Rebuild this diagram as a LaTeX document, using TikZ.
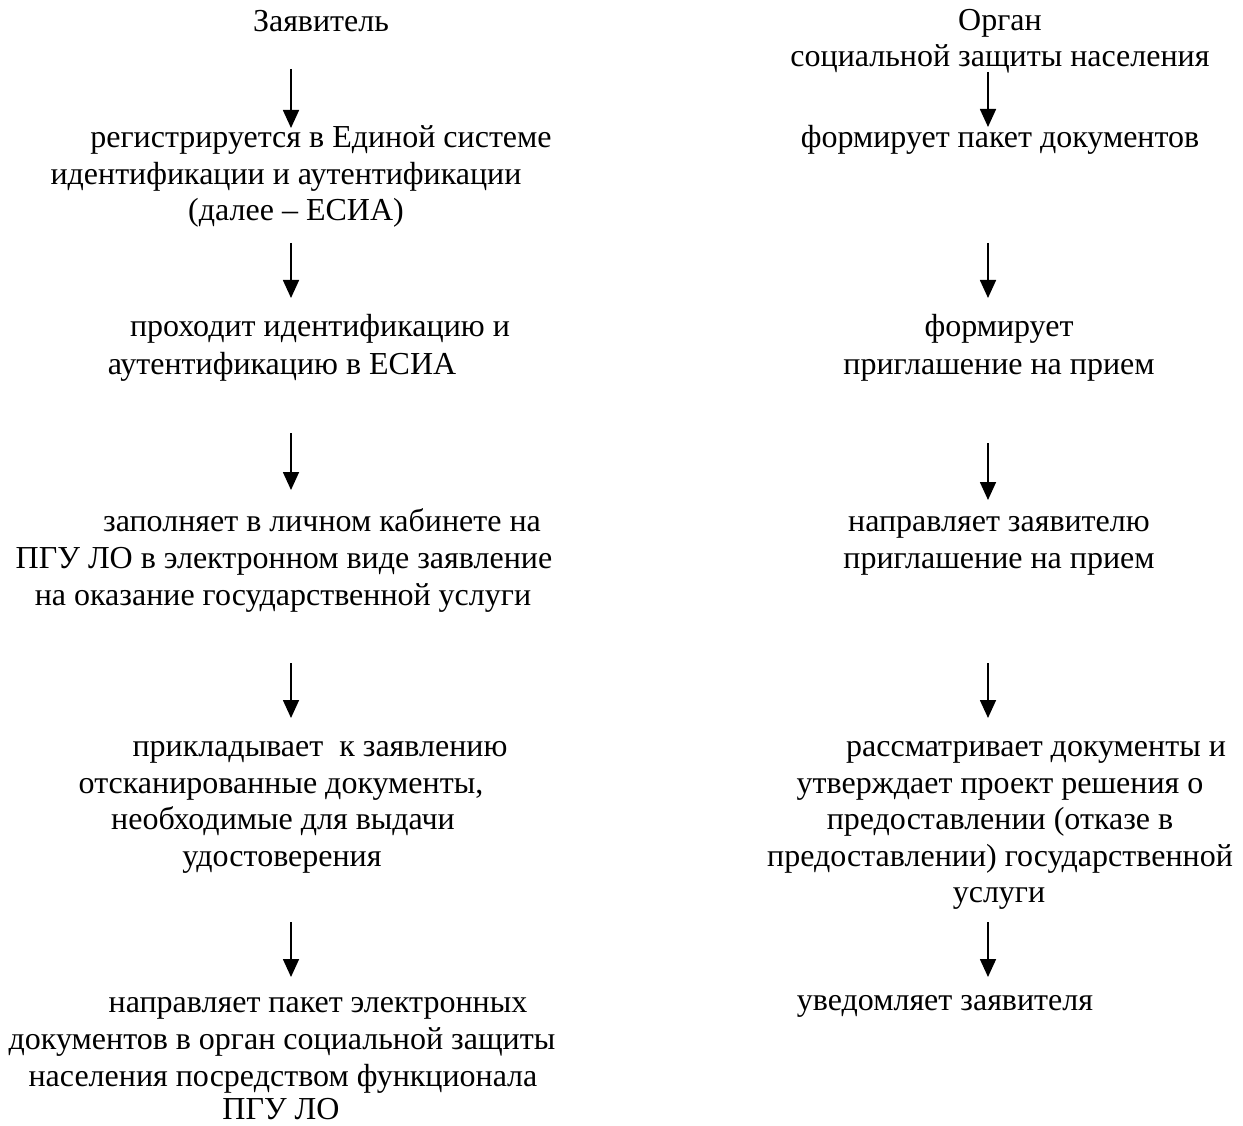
\documentclass[tikz,border=0pt]{standalone}
\usepackage{fontspec}
\setmainfont{Liberation Serif}
\usetikzlibrary{arrows.meta}
\begin{document}
\begin{tikzpicture}[x=1pt,y=-1pt,
  txt/.style={anchor=base,inner sep=0pt,font=\fontsize{32}{37}\selectfont},
  flow/.style={line width=1.7pt,-{Triangle[width=16pt,length=18pt]}}]
\useasboundingbox (0,0) rectangle (1243,1126);
% ---- left column
\node[txt] (zv)   at (321,32)  {Заявитель};
\node[txt] (l1a)  at (321,148) {регистрируется в Единой системе};
\node[txt] (l1b)  at (286,185) {идентификации и аутентификации};
\node[txt] (l1c)  at (296,221) {(далее – ЕСИА)};
\node[txt] (l2a)  at (320,337) {проходит идентификацию и};
\node[txt] (l2b)  at (282,374) {аутентификацию в ЕСИА};
\node[txt] (l3a)  at (322,531) {заполняет в личном кабинете на};
\node[txt] (l3b)  at (284,568) {ПГУ ЛО в электронном виде заявление};
\node[txt] (l3c)  at (283,605) {на оказание государственной услуги};
\node[txt] (l4a)  at (320,756) {прикладывает\ \ к заявлению};
\node[txt] (l4b)  at (281,793) {отсканированные документы,};
\node[txt] (l4c)  at (283,829) {необходимые для выдачи};
\node[txt] (l4d)  at (282,866) {удостоверения};
\node[txt] (l5a)  at (318,1012) {направляет пакет электронных};
\node[txt] (l5b)  at (282,1049) {документов в орган социальной защиты};
\node[txt] (l5c)  at (283,1086) {населения посредством функционала};
\node[txt] (l5d)  at (281,1119) {ПГУ ЛО};
% ---- right column
\node[txt] (org)  at (1000,31)  {Орган};
\node[txt] (orgb) at (1000,67) {социальной защиты населения};
\node[txt] (r1)   at (1000,148) {формирует пакет документов};
\node[txt] (r2a)  at (999,337) {формирует};
\node[txt] (r2b)  at (999,374) {приглашение на прием};
\node[txt] (r3a)  at (999,531) {направляет заявителю};
\node[txt] (r3b)  at (999,568) {приглашение на прием};
\node[txt] (r4a)  at (1036,756) {рассматривает документы и};
\node[txt] (r4b)  at (1000,793) {утверждает проект решения о};
\node[txt] (r4c)  at (1000,829) {предоставлении (отказе в};
\node[txt] (r4d)  at (1000,866) {предоставлении) государственной};
\node[txt] (r4e)  at (999,902) {услуги};
\node[txt] (r5)   at (945,1010) {уведомляет заявителя};
% ---- arrow end points
\coordinate (a1s) at (291,69);  \coordinate (a1e) at (291,128);
\coordinate (a2s) at (291,243); \coordinate (a2e) at (291,298);
\coordinate (a3s) at (291,433); \coordinate (a3e) at (291,490);
\coordinate (a4s) at (291,663); \coordinate (a4e) at (291,718);
\coordinate (a5s) at (291,922); \coordinate (a5e) at (291,977);
\coordinate (b1s) at (988,72);  \coordinate (b1e) at (988,127);
\coordinate (b2s) at (988,243); \coordinate (b2e) at (988,298);
\coordinate (b3s) at (988,443); \coordinate (b3e) at (988,500);
\coordinate (b4s) at (988,663); \coordinate (b4e) at (988,718);
\coordinate (b5s) at (988,922); \coordinate (b5e) at (988,977);
\foreach \s/\e in {a1s/a1e,a2s/a2e,a3s/a3e,a4s/a4e,a5s/a5e,b1s/b1e,b2s/b2e,b3s/b3e,b4s/b4e,b5s/b5e}
  \draw[flow] (\s) -- (\e);
\end{tikzpicture}
\end{document}
